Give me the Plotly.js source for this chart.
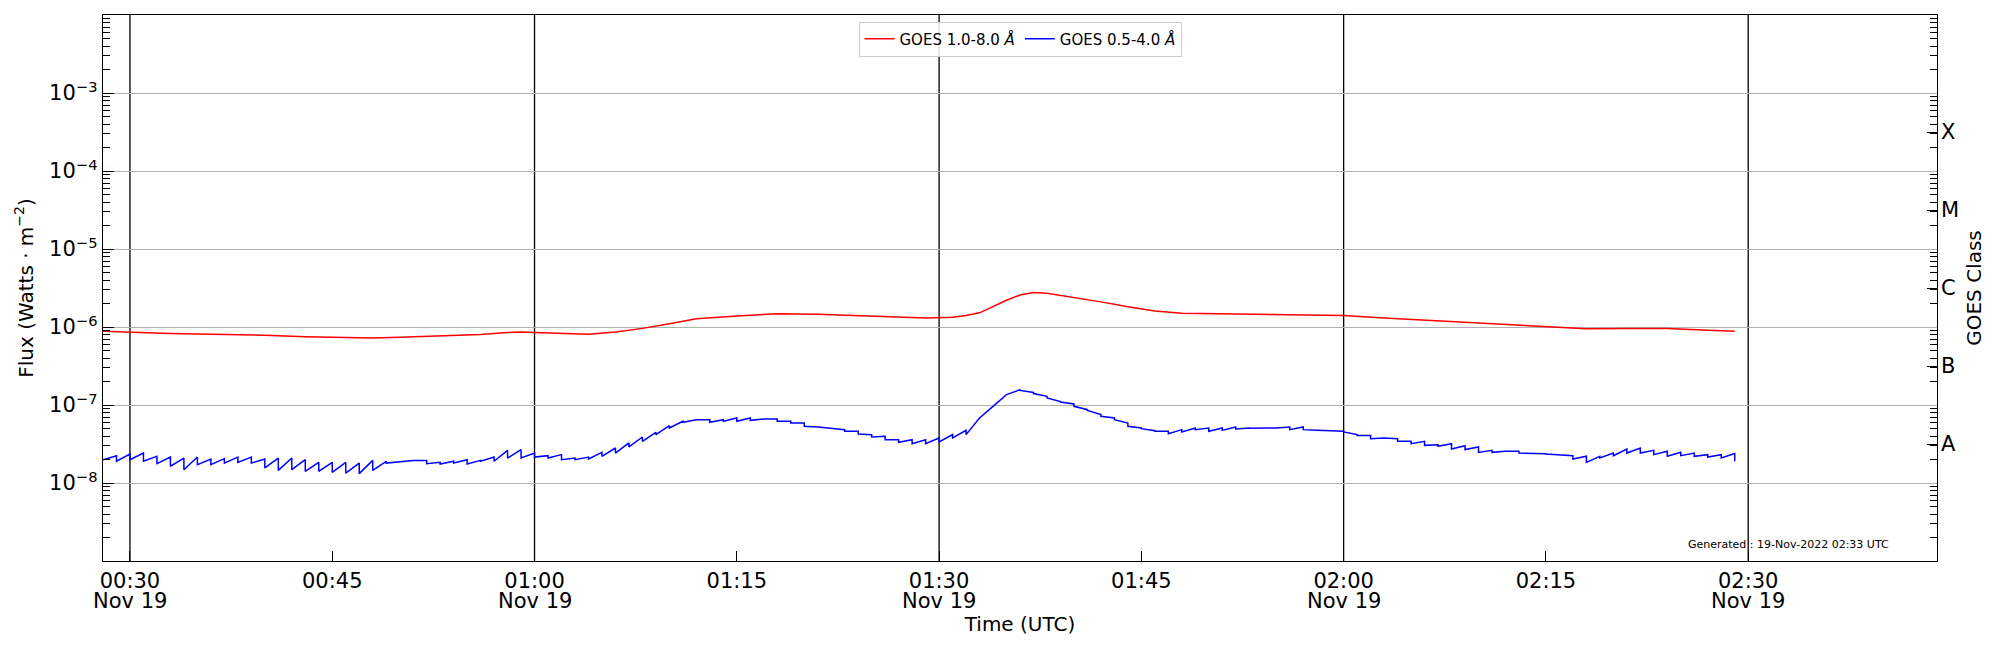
<!DOCTYPE html>
<html><head><meta charset="utf-8">
<script src="https://cdn.plot.ly/plotly-3.0.1.min.js"></script>
<style>html,body{margin:0;padding:0;background:#fff}#chart{width:2000px;height:650px}</style>
</head><body><div id="chart"></div>
<script>
// GOES 1.0-8.0 A (long channel), W/m^2
const redTimes = ['00:28','00:30','00:33','00:36','00:40','00:43','00:46','00:48','00:50','00:53','00:56','00:58','00:59','01:00','01:02','01:04','01:06','01:08','01:10','01:12','01:15','01:18','01:21','01:24','01:27','01:29','01:31','01:32','01:33','01:34','01:35','01:36','01:37','01:38','01:40','01:42','01:44','01:46','01:48','01:50','01:55','02:00','02:03','02:06','02:09','02:12','02:15','02:18','02:21','02:24','02:27','02:29'];
const redFlux = [8.85e-7,8.55e-7,8.25e-7,8.05e-7,7.85e-7,7.5e-7,7.3e-7,7.25e-7,7.4e-7,7.65e-7,8.0e-7,8.5e-7,8.65e-7,8.5e-7,8.3e-7,8.1e-7,8.6e-7,9.6e-7,1.1e-6,1.28e-6,1.38e-6,1.48e-6,1.46e-6,1.40e-6,1.33e-6,1.30e-6,1.33e-6,1.40e-6,1.52e-6,1.83e-6,2.2e-6,2.57e-6,2.76e-6,2.70e-6,2.40e-6,2.10e-6,1.82e-6,1.60e-6,1.50e-6,1.48e-6,1.43e-6,1.40e-6,1.30e-6,1.22e-6,1.14e-6,1.07e-6,1.0e-6,9.5e-7,9.6e-7,9.6e-7,9.1e-7,8.8e-7];

// GOES 0.5-4.0 A (short channel): value at start and end of each minute, in units of 1e-8 W/m^2
const dayPrefix = '2022-11-19';
const blueStartTime = '2022-11-19T00:28:00Z';
const blueUnit = 1e-8;
const blueMinuteStart = [1.99,1.90,1.99,1.90,1.77,1.64,1.48,1.72,1.72,1.80,1.84,1.80,1.56,1.45,1.48,1.41,1.41,1.37,1.34,1.32,1.45,1.80,1.88,1.95,1.77,1.75,1.80,1.75,1.90,1.90,2.09,2.09,2.15,2.09,
  1.99,1.99,2.03,2.20,2.42,2.90,3.42,4.17,5.07,6.00,6.49,6.00,6.18,6.18,6.36,6.62,6.18,5.88,5.33,5.22,5.07,4.60,4.25,3.89,3.59,3.32,3.19,3.19,3.36,3.78,4.17,6.81,9.61,
  13.6,15.4,14.0,12.3,10.9,9.61,8.54,7.16,6.49,5.33,4.98,4.60,4.29,4.51,4.83,4.60,4.73,4.92,5.02,5.07,5.07,4.83,4.83,4.73,4.69,4.51,4.05,3.70,3.78,3.42,3.19,3.04,2.95,
  2.73,2.68,2.47,2.47,2.55,2.42,2.42,2.35,2.31,2.03,1.84,2.09,2.24,2.42,2.42,2.31,2.20,2.24,2.20,2.15,2.09,1.90];
const blueMinuteEnd = [2.24,2.35,2.42,2.20,2.15,2.09,2.15,2.03,2.05,2.15,2.15,2.03,2.09,2.09,1.99,1.84,1.84,1.84,1.80,1.95,1.90,1.88,1.95,1.95,1.84,1.90,1.99,1.95,2.15,2.62,2.67,2.42,2.24,2.31,
  2.09,2.15,2.47,2.81,3.26,3.89,4.47,5.43,6.18,6.49,6.49,6.49,6.81,6.81,6.62,6.62,6.18,5.88,5.22,5.07,4.83,4.60,4.17,3.97,3.59,3.59,3.59,3.78,4.17,4.73,6.81,9.61,13.6,
  15.7,14.5,12.9,11.1,10.3,8.71,7.52,6.81,5.88,5.07,4.69,4.60,4.83,5.07,5.07,5.07,5.22,5.07,5.07,5.07,5.22,5.22,4.73,4.69,4.60,4.17,4.05,3.78,3.70,3.42,3.42,3.10,3.19,
  3.01,2.90,2.62,2.55,2.55,2.42,2.38,2.31,2.24,2.20,2.20,2.42,2.73,2.81,2.62,2.55,2.47,2.42,2.31,2.31,2.38];

const xRange = ['2022-11-19 00:28:00','2022-11-19 02:44:00'];
const xTickVals = ['00:30','00:45','01:00','01:15','01:30','01:45','02:00','02:15','02:30'];
const xTickText = ['00:30','00:45','01:00','01:15','01:30','01:45','02:00','02:15','02:30'];
const halfHourLines = ['00:30','01:00','01:30','02:00','02:30'];
const dateLabel = 'Nov 19';
const yTickVals = [1e-8,1e-7,1e-6,1e-5,1e-4,1e-3];
const yTickText = ['10<sup>−8</sup>','10<sup>−7</sup>','10<sup>−6</sup>','10<sup>−5</sup>','10<sup>−4</sup>','10<sup>−3</sup>'];
const minorDecades = [1e-9,1e-8,1e-7,1e-6,1e-5,1e-4,1e-3];
const minorDigits = [2,3,4,5,6,7,8,9];
const classTickVals = [3.16e-8,3.16e-7,3.16e-6,3.16e-5,3.16e-4];
const classTickText = ['A','B','C','M','X'];

const fmt = ms => new Date(ms).toISOString().replace('T',' ').slice(0,19);
const t0 = Date.parse(blueStartTime);
const bx = [], by = [];
for (let i = 0; i < blueMinuteEnd.length; i++) {
  bx.push(fmt(t0 + i*60000)); by.push(blueMinuteStart[i]*blueUnit);
  bx.push(fmt(t0 + (i+1)*60000)); by.push(blueMinuteEnd[i]*blueUnit);
}
const last = blueMinuteEnd.length;
bx.push(fmt(t0 + last*60000)); by.push(blueMinuteStart[last]*blueUnit);

const minorVals = [];
minorDecades.forEach(d => minorDigits.forEach(k => minorVals.push(d*k)));

const day = s => dayPrefix + ' ' + s;
const font = {family:'DejaVu Sans, sans-serif', color:'#000'};
const f = size => Object.assign({size:size}, font);

const traces = [
  {x: redTimes.map(day), y: redFlux, type:'scatter', mode:'lines', name:'GOES 1.0-8.0 <i>Å</i>',
   line:{color:'#ff0000', width:1.5}, xaxis:'x', yaxis:'y'},
  {x: bx, y: by, type:'scatter', mode:'lines', name:'GOES 0.5-4.0 <i>Å</i>',
   line:{color:'#0000ff', width:1.5}, xaxis:'x', yaxis:'y2'},
  // carriers for the minor-tick axes (same flux data, transparent)
  {x: redTimes.map(day), y: redFlux, type:'scatter', mode:'lines', showlegend:false,
   line:{color:'rgba(0,0,0,0)', width:0}, xaxis:'x', yaxis:'y3'},
  {x: redTimes.map(day), y: redFlux, type:'scatter', mode:'lines', showlegend:false,
   line:{color:'rgba(0,0,0,0)', width:0}, xaxis:'x', yaxis:'y4'}
];

const minorAxis = side => ({type:'log', range:[-9,-2], overlaying:'y', side:side, anchor:'x',
  tickmode:'array', tickvals:minorVals, ticks:'inside', ticklen:7, tickwidth:1, tickcolor:'#000',
  showticklabels:false, showgrid:false, zeroline:false, showline:false});

const layout = {
  width:2000, height:650,
  margin:{l:103, r:63, t:15, b:89},
  paper_bgcolor:'#fff', plot_bgcolor:'#fff',
  font: f(21),
  showlegend:true,
  legend:{orientation:'h', x:0.5, xanchor:'center', y:0.988, yanchor:'top',
    bgcolor:'rgba(255,255,255,0.85)', bordercolor:'#cccccc', borderwidth:1, font: f(15)},
  xaxis:{type:'date', range:xRange, tickmode:'array', tickvals:xTickVals.map(day), ticktext:xTickText,
    ticks:'inside', ticklen:10, tickwidth:1, tickcolor:'#000', showgrid:false, zeroline:false,
    showline:true, linecolor:'#000', linewidth:1.3, mirror:true, tickfont: f(21),
    title:{text:'Time (UTC)', font: f(20), standoff:25}},
  yaxis:{type:'log', range:[-9,-2], tickmode:'array', tickvals:yTickVals, ticktext:yTickText,
    ticks:'inside', ticklen:11, tickwidth:1, tickcolor:'#000',
    showgrid:true, gridcolor:'#b0b0b0', gridwidth:1, zeroline:false,
    showline:true, linecolor:'#000', linewidth:1.3, mirror:true,
    tickfont: f(21),
    title:{text:'Flux (Watts · m<sup>−2</sup>)', font: f(20), standoff:10}},
  yaxis2:{type:'log', range:[-9,-2], overlaying:'y', side:'right', anchor:'x',
    tickmode:'array', tickvals:classTickVals, ticktext:classTickText,
    ticks:'inside', ticklen:10, tickwidth:1, tickcolor:'#000', ticklabelstandoff:3,
    showgrid:false, zeroline:false, showline:false, tickfont: f(21),
    title:{text:'GOES Class', font: f(20), standoff:8}},
  yaxis3: minorAxis('left'),
  yaxis4: minorAxis('right'),
  shapes: halfHourLines.map(t => ({type:'line', xref:'x', yref:'paper', x0:day(t), x1:day(t), y0:0, y1:1,
    line:{color:'#000', width:1.3}, layer:'between'})),
  annotations: [{text:'Generated : 19-Nov-2022 02:33 UTC', xref:'paper', yref:'paper', x:0.975, y:0.031,
    xanchor:'right', yanchor:'middle', showarrow:false, font: f(11)}].concat(
    halfHourLines.map(t => ({text:dateLabel, xref:'x', yref:'paper', x:day(t), y:-0.073,
      xanchor:'center', yanchor:'middle', showarrow:false, font: f(21)})))
};

Plotly.newPlot('chart', traces, layout, {staticPlot:true, displayModeBar:false});
</script>
</body></html>
